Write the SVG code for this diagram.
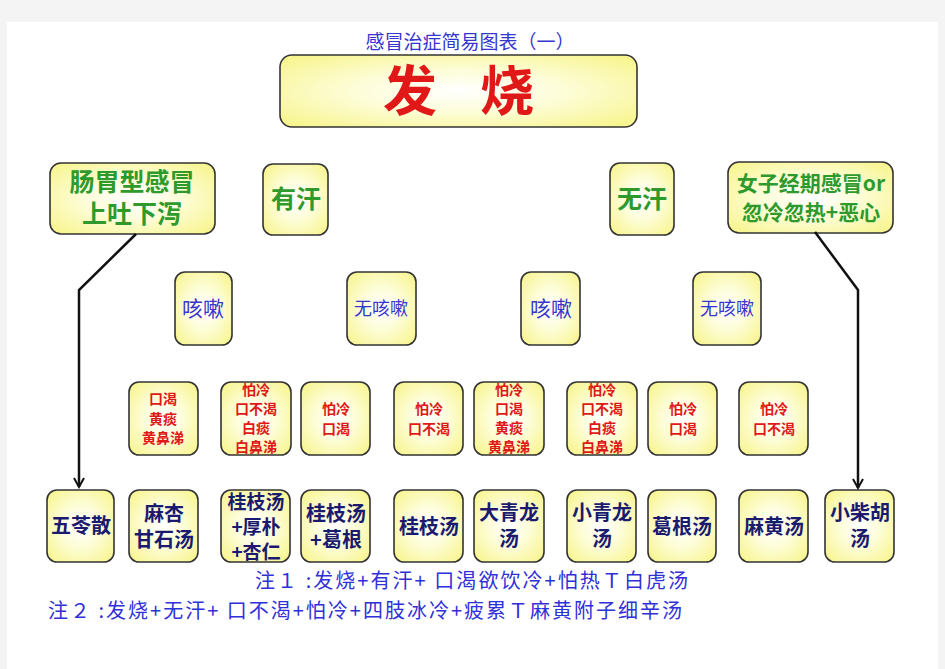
<svg xmlns="http://www.w3.org/2000/svg" width="945" height="669" viewBox="0 0 945 669">
<defs>
<radialGradient id="g" cx="50%" cy="50%" r="65%">
<stop offset="0" stop-color="#ffffff"/>
<stop offset="0.45" stop-color="#fdfdd8"/>
<stop offset="1" stop-color="#f8f590"/>
</radialGradient>
<marker id="ah" viewBox="0 0 12 12" refX="10" refY="6" markerWidth="12" markerHeight="12" markerUnits="userSpaceOnUse" orient="auto">
<path d="M1,1 L10,6 L1,11" fill="none" stroke="#111" stroke-width="2"/>
</marker>
<style>
.b{fill:url(#g);stroke:#333;stroke-width:1.6}
text{font-family:"Noto Sans CJK SC","Noto Sans",sans-serif;text-anchor:middle}
.gr{fill:#2e9a2e;font-weight:bold;font-size:25px}
.bl{fill:#3535d0;font-size:21px}
.rd{fill:#e01818;font-size:14px;font-weight:bold}
.nv{fill:#1a1a6e;font-size:20px;font-weight:bold}
.nt{fill:#3030d8;font-size:20px;text-anchor:start}
.c{fill:none;stroke:#111;stroke-width:2.5}
.big{fill:#e01818;font-size:54px;font-weight:bold}
</style>
</defs>
<rect x="0" y="0" width="945" height="669" fill="#f4f4f4"/>
<rect x="7" y="22" width="931" height="647" fill="#ffffff"/>
<text x="470" y="49" style="fill:#3535d0;font-size:19px">感冒治症简易图表（一）</text>
<g id="fashao"><rect class="b" x="280" y="55" width="357" height="72" rx="12"/><text class="big" x="410" y="111">发</text><text class="big" x="507" y="111">烧</text></g>
<g id="changwei"><rect class="b" x="50" y="163" width="165" height="71" rx="11"/><text class="gr" x="132" y="191">肠胃型感冒</text><text class="gr" x="132" y="223">上吐下泻</text></g>
<g id="youhan"><rect class="b" x="263" y="164" width="65" height="71" rx="10"/><text class="gr" x="296" y="208">有汗</text></g>
<g id="wuhan"><rect class="b" x="610" y="163" width="64" height="72" rx="10"/><text class="gr" x="642" y="208">无汗</text></g>
<g id="nvzi"><rect class="b" x="728" y="162" width="165" height="71" rx="11"/><text class="gr" x="811" y="191" style="font-size:21px">女子经期感冒or</text><text class="gr" x="811" y="220" style="font-size:21px">忽冷忽热+恶心</text></g>
<g id="ks1"><rect class="b" x="175" y="272" width="57" height="73" rx="10"/><text class="bl" x="203" y="316">咳嗽</text></g>
<g id="wks1"><rect class="b" x="347" y="272" width="69" height="73" rx="10"/><text class="bl" x="381" y="315" style="font-size:18px">无咳嗽</text></g>
<g id="ks2"><rect class="b" x="521" y="272" width="59" height="73" rx="10"/><text class="bl" x="551" y="316">咳嗽</text></g>
<g id="wks2"><rect class="b" x="693" y="272" width="68" height="73" rx="10"/><text class="bl" x="727" y="315" style="font-size:18px">无咳嗽</text></g>
<g id="s1"><rect class="b" x="129" y="382" width="69" height="73" rx="10"/><text class="rd" x="163" y="404">口渴</text><text class="rd" x="163" y="424">黄痰</text><text class="rd" x="163" y="443">黄鼻涕</text></g>
<g id="s2"><rect class="b" x="221" y="382" width="70" height="73" rx="10"/><text class="rd" x="256" y="395">怕冷</text><text class="rd" x="256" y="414">口不渴</text><text class="rd" x="256" y="433">白痰</text><text class="rd" x="256" y="452">白鼻涕</text></g>
<g id="s3"><rect class="b" x="301" y="382" width="69" height="73" rx="10"/><text class="rd" x="336" y="414">怕冷</text><text class="rd" x="336" y="434">口渴</text></g>
<g id="s4"><rect class="b" x="394" y="382" width="69" height="73" rx="10"/><text class="rd" x="429" y="414">怕冷</text><text class="rd" x="429" y="434">口不渴</text></g>
<g id="s5"><rect class="b" x="474" y="382" width="70" height="73" rx="10"/><text class="rd" x="509" y="395">怕冷</text><text class="rd" x="509" y="414">口渴</text><text class="rd" x="509" y="433">黄痰</text><text class="rd" x="509" y="452">黄鼻涕</text></g>
<g id="s6"><rect class="b" x="567" y="382" width="70" height="73" rx="10"/><text class="rd" x="602" y="395">怕冷</text><text class="rd" x="602" y="414">口不渴</text><text class="rd" x="602" y="433">白痰</text><text class="rd" x="602" y="452">白鼻涕</text></g>
<g id="s7"><rect class="b" x="648" y="382" width="69" height="73" rx="10"/><text class="rd" x="683" y="414">怕冷</text><text class="rd" x="683" y="434">口渴</text></g>
<g id="s8"><rect class="b" x="739" y="382" width="69" height="73" rx="10"/><text class="rd" x="774" y="414">怕冷</text><text class="rd" x="774" y="434">口不渴</text></g>
<g id="r1"><rect class="b" x="47" y="490" width="67" height="72" rx="10"/><text class="nv" x="81" y="533">五苓散</text></g>
<g id="r2"><rect class="b" x="129" y="490" width="69" height="72" rx="10"/><text class="nv" x="164" y="521">麻杏</text><text class="nv" x="164" y="547">甘石汤</text></g>
<g id="r3"><rect class="b" x="221" y="490" width="69" height="72" rx="10"/><text class="nv" x="256" y="509" style="font-size:19px">桂枝汤</text><text class="nv" x="256" y="534" style="font-size:19px">+厚朴</text><text class="nv" x="256" y="559" style="font-size:19px">+杏仁</text></g>
<g id="r4"><rect class="b" x="301" y="490" width="69" height="72" rx="10"/><text class="nv" x="336" y="521">桂枝汤</text><text class="nv" x="336" y="547">+葛根</text></g>
<g id="r5"><rect class="b" x="394" y="490" width="69" height="72" rx="10"/><text class="nv" x="429" y="534">桂枝汤</text></g>
<g id="r6"><rect class="b" x="474" y="490" width="70" height="72" rx="10"/><text class="nv" x="509" y="520">大青龙</text><text class="nv" x="509" y="546">汤</text></g>
<g id="r7"><rect class="b" x="567" y="490" width="69" height="72" rx="10"/><text class="nv" x="602" y="520">小青龙</text><text class="nv" x="602" y="546">汤</text></g>
<g id="r8"><rect class="b" x="648" y="490" width="68" height="72" rx="10"/><text class="nv" x="682" y="534">葛根汤</text></g>
<g id="r9"><rect class="b" x="739" y="490" width="69" height="72" rx="10"/><text class="nv" x="774" y="534">麻黄汤</text></g>
<g id="r10"><rect class="b" x="825" y="490" width="69" height="72" rx="10"/><text class="nv" x="860" y="520">小柴胡</text><text class="nv" x="860" y="546">汤</text></g>
<g id="connectors">
<polyline class="c" points="136,234 79,290 79,487" marker-end="url(#ah)"/>
<polyline class="c" points="815,232 858,290 858,488" marker-end="url(#ah)"/>
</g>
<text class="nt" x="255" y="588" textLength="433" lengthAdjust="spacing">注１ :发烧+有汗+ 口渴欲饮冷+怕热Ｔ白虎汤</text>
<text class="nt" x="48" y="618" textLength="634" lengthAdjust="spacing">注２ :发烧+无汗+ 口不渴+怕冷+四肢冰冷+疲累Ｔ麻黄附子细辛汤</text>
</svg>
